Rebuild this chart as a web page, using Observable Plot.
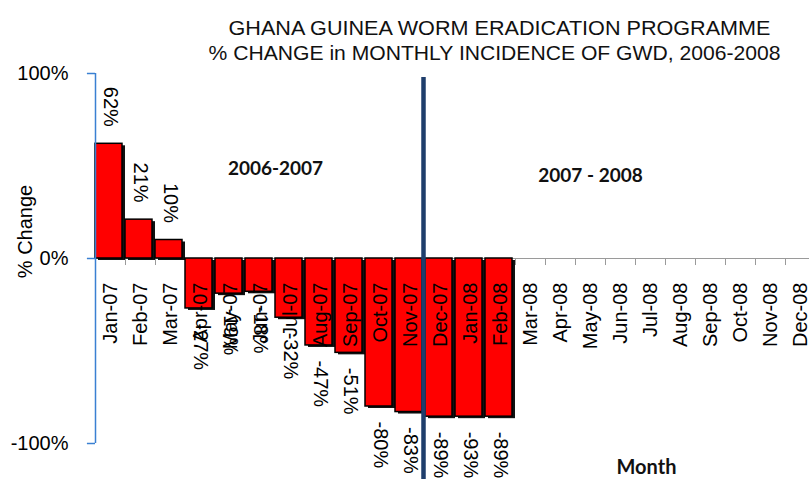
<!DOCTYPE html>
<html>
<head>
<meta charset="utf-8">
<script src="https://cdn.jsdelivr.net/npm/d3@7"></script>
<script src="https://cdn.jsdelivr.net/npm/@observablehq/plot@0.6"></script>
<style>
  body { margin: 0; background: #fff; }
  svg { overflow: visible; }
</style>
</head>
<body>
<div id="chart"></div>
<script>
// ---- data ----
const months = ["Jan-07","Feb-07","Mar-07","Apr-07","May-07","Jun-07","Jul-07","Aug-07","Sep-07","Oct-07","Nov-07","Dec-07",
                "Jan-08","Feb-08","Mar-08","Apr-08","May-08","Jun-08","Jul-08","Aug-08","Sep-08","Oct-08","Nov-08","Dec-08"];
const barMonths = ["Jan-07","Feb-07","Mar-07","Apr-07","May-07","Jun-07","Jul-07","Aug-07","Sep-07","Oct-07","Nov-07","Dec-07","Jan-08","Feb-08"];
const pctChange = [0.62, 0.21, 0.10, -0.27, -0.19, -0.18, -0.32, -0.47, -0.51, -0.80, -0.83, -0.89, -0.93, -0.89];
const barFloor = -0.855;           // bars in the picture are cut off at this level
const yTicks = [1, 0, -1];
const yTickLabels = ["100%", "0%", "-100%"];
const titleLines = ["GHANA GUINEA WORM ERADICATION PROGRAMME", "% CHANGE in MONTHLY INCIDENCE OF GWD, 2006-2008"];
const periods = ["2006-2007", "2007 - 2008"];
const periodMonths = ["Jun-07", "May-08"];
const periodLevels = [0.486, 0.449];
const dividerMonth = "Dec-07";
const xTitle = "Month";
const yTitle = "% Change";

// ---- tables ----
const idx = m => months.indexOf(m);
const bars = barMonths.map((m, k) => ({i: idx(m), v: pctChange[k], label: Math.round(pctChange[k] * 100) + "%"}));
const posBars = bars.filter(d => d.v >= 0);
const negBars = bars.filter(d => d.v < 0);
const ticks = months.map((m, i) => ({i, m}));
const periodRows = periods.map((p, k) => ({p, i: idx(periodMonths[k]) + (k === 0 ? 1 : 0.5), y: periodLevels[k]}));
const yRows = yTicks.map((t, k) => ({t, label: yTickLabels[k]}));

const font = "'Liberation Sans', Arial, sans-serif";
const boldFont = "Lato, 'Open Sans', sans-serif";
const barEnd = d => Math.max(d.v, barFloor);

const chart = Plot.plot({
  width: 809,
  height: 479,
  marginLeft: 95,
  marginRight: 0,
  marginTop: 73,
  marginBottom: 36,
  style: {fontFamily: font, background: "#fff", overflow: "visible"},
  x: {type: "linear", domain: [0, months.length], range: [95, 815], axis: null},
  y: {domain: [-1, 1], axis: null},
  marks: [
    // zero axis line and category boundary ticks
    Plot.ruleY([0], {stroke: "#9a9a9a", strokeWidth: 1}),
    Plot.ruleX(ticks, {x: "i", y1: 0, y2: -0.038, stroke: "#9a9a9a", strokeWidth: 1}),
    // bar shadows
    Plot.rect(bars, {x1: "i", x2: d => d.i + 1, y1: 0, y2: barEnd,
      insetRight: 3, dx: 3, dy: 2, fill: "#111"}),
    // bars
    Plot.rect(bars, {x1: "i", x2: d => d.i + 1, y1: 0, y2: barEnd,
      insetRight: 3, fill: "#ff0000", stroke: "#000", strokeWidth: 1.5}),
    // month labels
    Plot.text(ticks, {x: d => d.i + 0.5, y: 0, text: "m", rotate: -90, textAnchor: "end", dy: 24,
      fontSize: 20, fill: "#000"}),
    // value labels (outside the bar end)
    Plot.text(posBars, {x: d => d.i + 0.5, y: barEnd, text: "label", rotate: 90,
      textAnchor: "end", dy: -17, fontSize: 20, fill: "#000"}),
    Plot.text(negBars, {x: d => d.i + 0.5, y: barEnd, text: "label", rotate: 90,
      textAnchor: "start", dy: 15, fontSize: 20, fill: "#000"}),
    // y axis line, ticks, labels
    Plot.ruleX([0], {x: d => d, y1: -1, y2: 1, stroke: "#3a80d2", strokeWidth: 1.5}),
    Plot.ruleY(yRows, {y: "t", x1: -0.27, x2: 0, stroke: "#3a80d2", strokeWidth: 1.5}),
    Plot.text(yRows, {x: 0, y: "t", text: "label", textAnchor: "end", dx: -27, fontSize: 20, fill: "#000"}),
    // divider line
    Plot.ruleX([dividerMonth], {x: d => idx(d), dx: -2, y1: 0.978, y2: -1.3, stroke: "#1f3e6c", strokeWidth: 4.5}),
    // period labels
    Plot.text(periodRows, {x: "i", y: "y", text: "p", fontSize: 19, fontWeight: "bold", fontFamily: boldFont, fill: "#111"}),
    // axis titles
    Plot.text([xTitle], {frameAnchor: "bottom", dx: 194, dy: 30, fontSize: 20, fontWeight: "bold", fontFamily: boldFont, fill: "#111"}),
    Plot.text([yTitle], {x: -2.33, y: 0.146, rotate: -90, fontSize: 20, fill: "#000"}),
    // title
    Plot.text([titleLines[0]], {frameAnchor: "top", dx: 47, dy: -53, fontSize: 21, fill: "#111"}),
    Plot.text([titleLines[1]], {frameAnchor: "top", dx: 42, dy: -28, fontSize: 21, fill: "#111"})
  ]
});

document.getElementById("chart").append(chart);

// stretch the title lines to the width they have in the reference
const titleWidths = [542, 572];
d3.select(chart).selectAll("text").each(function() {
  const k = titleLines.indexOf(this.textContent);
  if (k >= 0) d3.select(this).attr("textLength", titleWidths[k]).attr("lengthAdjust", "spacingAndGlyphs");
});
</script>
</body>
</html>
